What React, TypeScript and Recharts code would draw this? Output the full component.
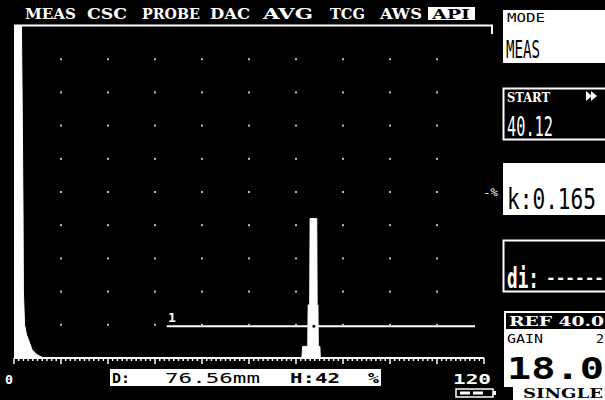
import { ComposedChart, Area, Scatter, XAxis, YAxis, ReferenceLine, ReferenceDot } from 'recharts';

// A-scan trace: sound path (0..120) and echo height (%)
const scanPos = [0, 1.9, 2.1, 2.3, 2.4, 2.7, 3.2, 3.7, 4.6, 5.9, 7, 8, 73.5, 73.7, 75.0, 75.1, 75.5, 75.6, 77.3, 77.4, 77.6, 77.7, 78.1, 78.2, 120];
const scanAmp = [100, 100, 75, 45, 20, 10, 7, 5.5, 2.5, 1, 0.3, 0, 0, 3.5, 3.5, 16, 16, 42, 42, 16, 16, 3.5, 3.5, 0, 0];

const xDivisions = [0, 12, 24, 36, 48, 60, 72, 84, 96, 108, 120];
const yDivisions = [0, 10, 20, 30, 40, 50, 60, 70, 80, 90, 100];
const minorStep = 1.2;

const gateStart = 39;
const gateEnd = 117.7;
const gateLevel = 9.6;
const echoPos = 76.56;

const menuItems = ['MEAS', 'CSC', 'PROBE', 'DAC', 'AVG', 'TCG', 'AWS'];
const menuLeft = [25, 87, 142, 210, 263, 330, 380];
const menuWidth = [51, 40, 58, 40, 50, 35, 42];

const scanData = scanPos.map((x, i) => ({ x, amp: scanAmp[i] }));
const gridDots = xDivisions.slice(1, -1).flatMap((x) => yDivisions.slice(1, -1).map((y) => ({ x, y })));
const minorTicks = Array.from({ length: Math.round(120 / minorStep) + 1 }, (_, i) => +(i * minorStep).toFixed(1));

const mono = '"DejaVu Sans Mono", monospace';
const serif = '"DejaVu Serif", serif';

function BottomTick(props: any) {
  const { x, y, payload } = props;
  const k = payload.value / 12;
  const major = Math.abs(k - Math.round(k)) < 1e-6;
  return <line x1={x} x2={x} y1={y} y2={y + (major ? 6 : 3)} stroke="#fff" strokeWidth={1.5} />;
}

function GridDot(props: any) {
  const { cx, cy } = props;
  return <rect x={cx - 1} y={cy - 1} width={2} height={2} fill="#bdbdbd" />;
}

function T(p: { x: number; y: number; w: number; size: number; sy?: number; fill?: string; weight?: string; family?: string; children: any }) {
  const sy = p.sy ?? 1;
  return (
    <g transform={`translate(${p.x},${p.y}) scale(1,${sy})`}>
      <text
        x={0}
        y={0}
        fontSize={p.size}
        fill={p.fill ?? '#fff'}
        fontWeight={p.weight ?? 'bold'}
        fontFamily={p.family ?? mono}
        textLength={p.w}
        lengthAdjust="spacingAndGlyphs"
      >
        {p.children}
      </text>
    </g>
  );
}

function Overlay() {
  return (
    <svg width={605} height={400} style={{ position: 'absolute', left: 0, top: 0, pointerEvents: 'none' }}>
      {/* menu bar */}
      {menuItems.map((m, i) => (
        <T key={m} x={menuLeft[i]} y={19} w={menuWidth[i]} size={14} family={serif}>{m}</T>
      ))}
      <rect x={428} y={7} width={47} height={13} fill="#fff" />
      <T x={432} y={18.5} w={38} size={13} fill="#000" family={serif}>API</T>

      {/* frame */}
      <path d="M14 25.5 H492 V34" stroke="#fff" strokeWidth={2} fill="none" />
      <T x={168} y={322} w={8} size={12}>1</T>
      <T x={483} y={196} w={15} size={11} weight="normal">-%</T>

      {/* bottom readout */}
      <T x={5} y={384} w={8} size={13}>0</T>
      <rect x={110} y={369} width={271} height={17} fill="#fff" />
      <T x={112} y={383} w={18} size={14} fill="#000">D:</T>
      <T x={165} y={383} w={95} size={14} fill="#000" weight="normal">76.56mm</T>
      <T x={290} y={383} w={50} size={14} fill="#000">H:42</T>
      <T x={368} y={383} w={11} size={14} fill="#000">%</T>
      <T x={453} y={384} w={38} size={14}>120</T>
      <rect x={456} y={389} width={37} height={8} stroke="#fff" strokeWidth={1.5} fill="none" />
      <rect x={460} y={391.5} width={10} height={3} fill="#fff" />
      <rect x={473} y={391.5} width={10} height={3} fill="#fff" />
      <rect x={493} y={391} width={3} height={4} fill="#fff" />

      {/* right panel */}
      <rect x={503} y={10} width={102} height={53} fill="#fff" />
      <T x={507} y={22} w={38} size={12} fill="#000" weight="normal">MODE</T>
      <T x={506} y={58} w={34} size={16} sy={1.6} fill="#000" weight="normal">MEAS</T>

      <rect x={503.5} y={88.5} width={103} height={51} stroke="#fff" strokeWidth={2} fill="#000" />
      <T x={507} y={102} w={43} size={12} family={serif}>START</T>
      <path d="M586 91 L592 96 L586 101 Z M591 91 L597 96 L591 101 Z" fill="#fff" />
      <T x={507} y={136} w={46} size={18} sy={1.5} weight="normal">40.12</T>

      <rect x={503} y={163} width={102} height={52} fill="#fff" />
      <T x={507} y={209} w={89} size={21} sy={1.35} fill="#000" weight="normal">k:0.165</T>

      <rect x={503.5} y={240.5} width={103} height={51} stroke="#fff" strokeWidth={2} fill="#000" />
      <T x={507} y={288} w={32} size={18} sy={1.55}>di:</T>
      <T x={546} y={283} w={58} size={16}>------</T>

      <rect x={505} y={312} width={101} height={74} fill="#fff" stroke="#fff" strokeWidth={2} />
      <rect x={506} y={313} width={100} height={16} fill="#000" />
      <T x={509} y={326} w={95} size={13} family={serif}>REF 40.0</T>
      <T x={507} y={343} w={36} size={13} fill="#000" weight="normal">GAIN</T>
      <T x={596} y={343} w={8} size={13} fill="#000" weight="normal">2</T>
      <T x={507} y={379} w={97} size={30} fill="#000">18.0</T>
      <rect x={513} y={387} width={93} height={14} fill="#fff" />
      <T x={523} y={397.5} w={80} size={12} fill="#000" family={serif}>SINGLE</T>
    </svg>
  );
}

export default function App() {
  return (
    <div style={{ position: 'fixed', left: 0, top: 0, width: 605, height: 400, background: '#000' }}>
      <ComposedChart width={605} height={400} data={scanData} margin={{ top: 26, right: 121, bottom: 22, left: 14 }}>
        <XAxis
          dataKey="x"
          type="number"
          domain={[0, 120]}
          ticks={minorTicks}
          interval={0}
          tickSize={0}
          tickMargin={0}
          height={20}
          axisLine={{ stroke: '#fff', strokeWidth: 2 }}
          tick={BottomTick}
        />
        <YAxis
          type="number"
          domain={[0, 100]}
          ticks={yDivisions}
          width={0}
          tickSize={3}
          axisLine={{ stroke: '#fff', strokeWidth: 2 }}
          tickLine={{ stroke: '#ccc' }}
          tick={() => null}
        />
        <YAxis
          yAxisId="right"
          orientation="right"
          type="number"
          domain={[0, 100]}
          ticks={yDivisions}
          width={0}
          tickSize={2}
          axisLine={false}
          tickLine={{ stroke: '#ccc' }}
          tick={() => null}
        />
        <Scatter data={gridDots} dataKey="y" shape={GridDot} isAnimationActive={false} />
        <Area
          type="linear"
          dataKey="amp"
          stroke="#fff"
          strokeWidth={1}
          fill="#fff"
          fillOpacity={1}
          dot={false}
          activeDot={false}
          isAnimationActive={false}
        />
        <ReferenceLine
          segment={[{ x: gateStart, y: gateLevel }, { x: gateEnd, y: gateLevel }]}
          stroke="#fff"
          strokeWidth={2}
        />
        <ReferenceDot x={echoPos} y={gateLevel} r={1.5} fill="#000" stroke="none" />
      </ComposedChart>
      <Overlay />
    </div>
  );
}
